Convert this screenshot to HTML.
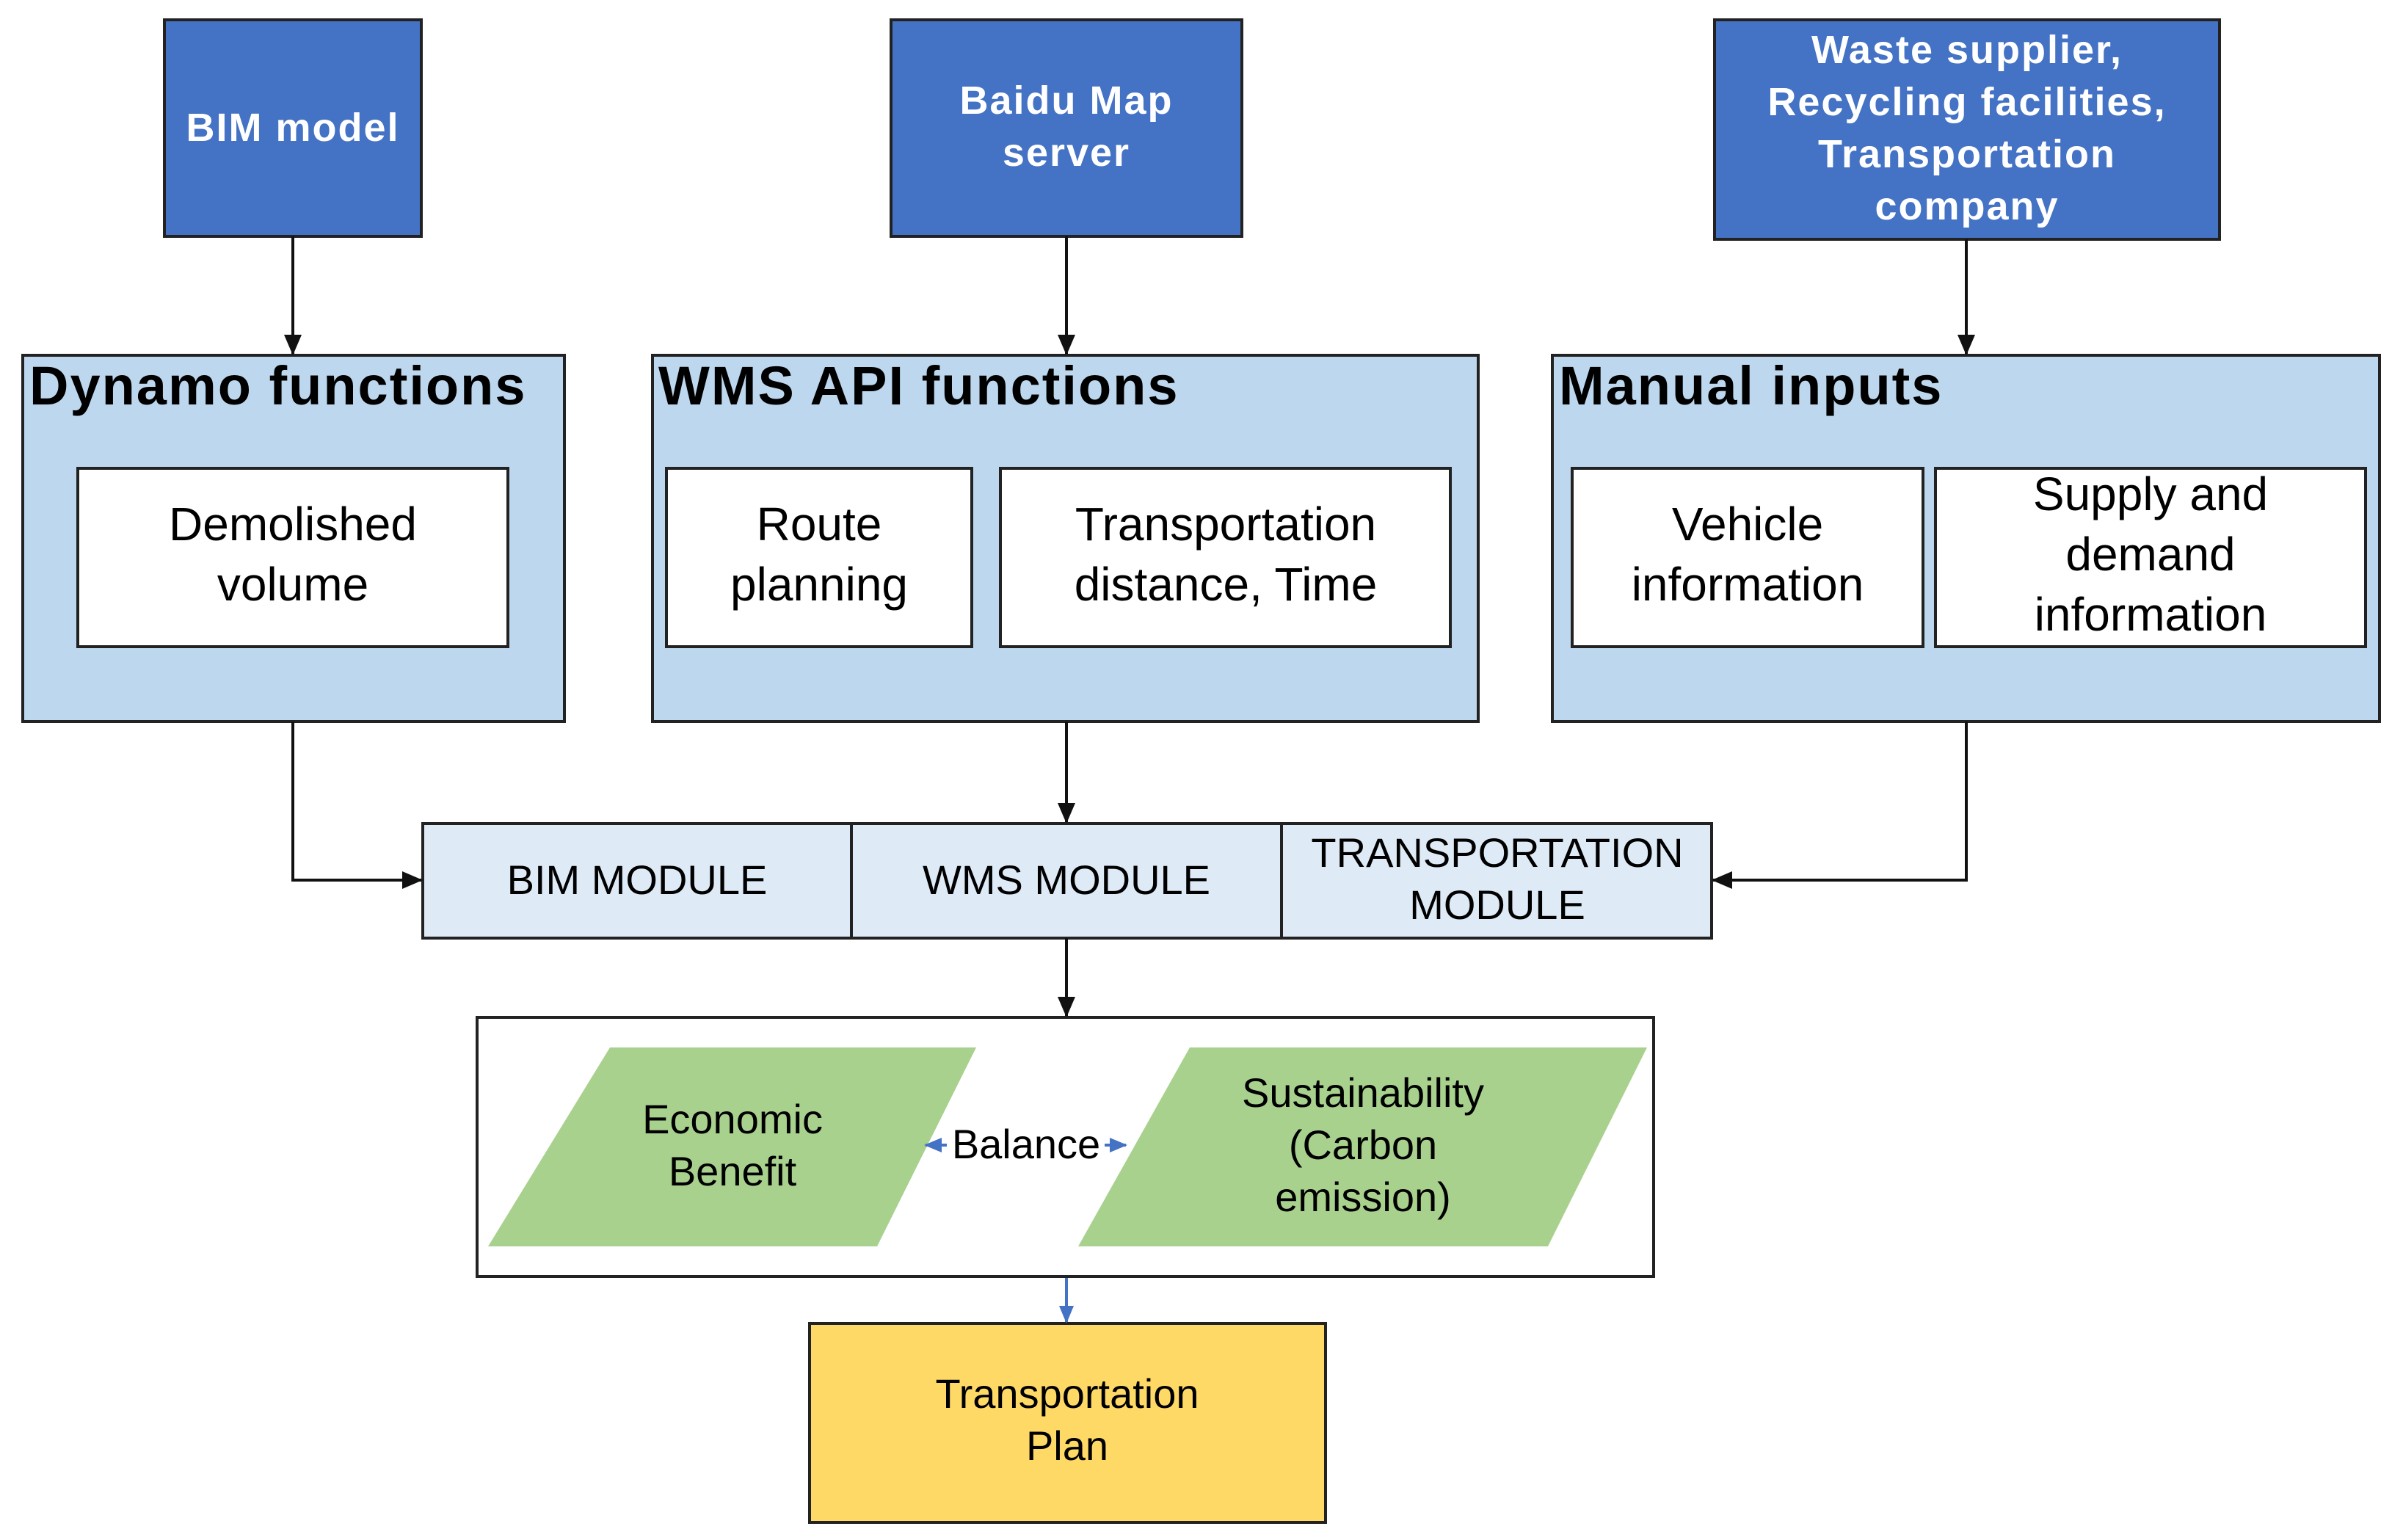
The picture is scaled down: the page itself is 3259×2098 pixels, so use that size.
<!DOCTYPE html>
<html><head><meta charset="utf-8"><style>
html,body{margin:0;padding:0;background:#fff}
svg{display:block}
text{font-family:"Liberation Sans",Arial,sans-serif}
</style></head><body>
<svg width="3259" height="2098" viewBox="0 0 3259 2098" xmlns="http://www.w3.org/2000/svg">
<defs>
<marker id="a" markerWidth="28" markerHeight="28" refX="26" refY="14" orient="auto" markerUnits="userSpaceOnUse" viewBox="0 0 28 28"><path d="M0,2 L28,14 L0,26 z" fill="#111"/></marker>
<marker id="b" markerWidth="24" markerHeight="24" refX="22" refY="12" orient="auto" markerUnits="userSpaceOnUse" viewBox="0 0 24 24"><path d="M0,2 L24,12 L0,22 z" fill="#4472C4"/></marker>
</defs>
<g stroke="#222" stroke-width="4">
<rect x="224" y="27" width="350" height="295" fill="#4472C4"/>
<rect x="1214" y="27" width="478" height="295" fill="#4472C4"/>
<rect x="2336" y="27" width="688" height="299" fill="#4472C4"/>
<rect x="31" y="484" width="738" height="499" fill="#BDD7EE"/>
<rect x="889" y="484" width="1125" height="499" fill="#BDD7EE"/>
<rect x="2115" y="484" width="1127" height="499" fill="#BDD7EE"/>
<rect x="106" y="638" width="586" height="243" fill="#fff"/>
<rect x="908" y="638" width="416" height="243" fill="#fff"/>
<rect x="1363" y="638" width="613" height="243" fill="#fff"/>
<rect x="2142" y="638" width="478" height="243" fill="#fff"/>
<rect x="2637" y="638" width="586" height="243" fill="#fff"/>
<rect x="576" y="1122" width="1756" height="156" fill="#DEEBF7"/>
<line x1="1160" y1="1122" x2="1160" y2="1278"/>
<line x1="1746" y1="1122" x2="1746" y2="1278"/>
<rect x="650" y="1386" width="1603" height="353" fill="#fff"/>
<rect x="1103" y="1803" width="703" height="271" fill="#FFD966"/>
</g>
<polygon points="831,1427 1330,1427 1195,1698 665,1698" fill="#A9D18E"/>
<polygon points="1621,1427 2244,1427 2109,1698 1469,1698" fill="#A9D18E"/>
<g stroke="#111" fill="none" stroke-width="4">
<line x1="399" y1="322" x2="399" y2="482" marker-end="url(#a)"/>
<line x1="1453" y1="322" x2="1453" y2="482" marker-end="url(#a)"/>
<line x1="2679" y1="326" x2="2679" y2="482" marker-end="url(#a)"/>
<polyline points="399,983 399,1199 574,1199" marker-end="url(#a)"/>
<polyline points="2679,983 2679,1199 2334,1199" marker-end="url(#a)"/>
<line x1="1453" y1="983" x2="1453" y2="1120" marker-end="url(#a)"/>
<line x1="1453" y1="1278" x2="1453" y2="1384" marker-end="url(#a)"/>
</g>
<line x1="1453" y1="1741" x2="1453" y2="1801" stroke="#4472C4" stroke-width="4" marker-end="url(#b)"/>
<line x1="1290" y1="1560" x2="1261" y2="1560" stroke="#4472C4" stroke-width="4" marker-end="url(#b)"/>
<line x1="1505" y1="1560" x2="1534" y2="1560" stroke="#4472C4" stroke-width="4" marker-end="url(#b)"/>
<g fill="#fff" font-weight="bold" font-size="54" text-anchor="middle" letter-spacing="2">
<text x="399" y="192">BIM model</text>
<text x="1453" y="155">Baidu Map</text>
<text x="1453" y="226">server</text>
<text x="2680" y="86">Waste supplier,</text>
<text x="2680" y="157">Recycling facilities,</text>
<text x="2680" y="228">Transportation</text>
<text x="2680" y="299">company</text>
</g>
<g fill="#000" font-weight="bold" font-size="74" letter-spacing="2">
<text x="40" y="551">Dynamo functions</text>
<text x="897" y="551">WMS API functions</text>
<text x="2124" y="551">Manual inputs</text>
</g>
<g fill="#000" font-size="64" text-anchor="middle">
<text x="399" y="736">Demolished</text>
<text x="399" y="818">volume</text>
<text x="1116" y="736">Route</text>
<text x="1116" y="818">planning</text>
<text x="1670" y="736">Transportation</text>
<text x="1670" y="818">distance, Time</text>
<text x="2381" y="736">Vehicle</text>
<text x="2381" y="818">information</text>
<text x="2930" y="695">Supply and</text>
<text x="2930" y="777">demand</text>
<text x="2930" y="859">information</text>
</g>
<g fill="#000" font-size="56" text-anchor="middle">
<text x="868" y="1218">BIM MODULE</text>
<text x="1453" y="1218">WMS MODULE</text>
<text x="2040" y="1181">TRANSPORTATION</text>
<text x="2040" y="1252">MODULE</text>
<text x="998" y="1544">Economic</text>
<text x="998" y="1615">Benefit</text>
<text x="1398" y="1578">Balance</text>
<text x="1857" y="1508">Sustainability</text>
<text x="1857" y="1579">(Carbon</text>
<text x="1857" y="1650">emission)</text>
<text x="1454" y="1918">Transportation</text>
<text x="1454" y="1989">Plan</text>
</g>
</svg>
</body></html>
